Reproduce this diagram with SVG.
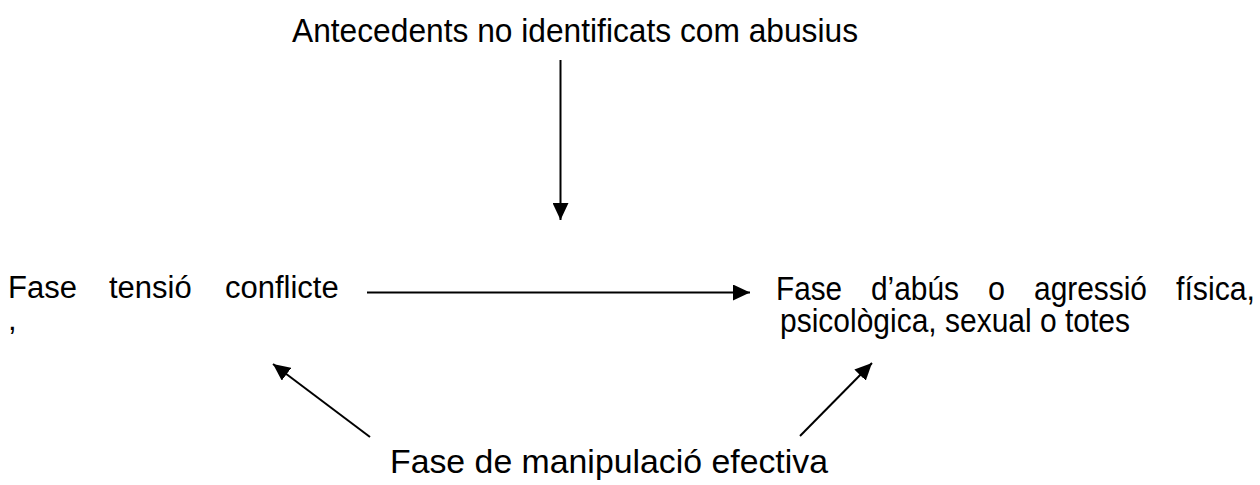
<svg xmlns="http://www.w3.org/2000/svg" width="1260" height="485" viewBox="0 0 1260 485">
<style>
.t{font-family:"Liberation Sans",Arial,sans-serif;fill:#000}
.a{font-size:32.5px}
.l{font-size:31px}
.r{font-size:33px}
.c{stroke:#000;stroke-width:2;fill:none}
</style>
<defs>
<marker id="ah" viewBox="0 0 17 16" refX="17" refY="8" markerWidth="17" markerHeight="16" markerUnits="userSpaceOnUse" orient="auto">
<path d="M0,0 L17,8 L0,16 z" fill="#000"/>
</marker>
</defs>
<rect width="1260" height="485" fill="#fff"/>
<g id="node-antecedents">
<text class="t a" x="292" y="42" textLength="566" lengthAdjust="spacingAndGlyphs">Antecedents no identificats com abusius</text>
</g>
<g id="node-tensio">
<text class="t l" x="8" y="298">Fase</text>
<text class="t l" x="109" y="298">tensió</text>
<text class="t l" x="225" y="298">conflicte</text>
<text class="t l" x="8" y="330">,</text>
</g>
<g id="node-abus">
<text class="t r" x="776" y="300" textLength="66" lengthAdjust="spacingAndGlyphs">Fase</text>
<text class="t r" x="871" y="300" textLength="88" lengthAdjust="spacingAndGlyphs">d’abús</text>
<text class="t r" x="988" y="300" textLength="17" lengthAdjust="spacingAndGlyphs">o</text>
<text class="t r" x="1034" y="300" textLength="113" lengthAdjust="spacingAndGlyphs">agressió</text>
<text class="t r" x="1176" y="300" textLength="79" lengthAdjust="spacingAndGlyphs">física,</text>
<text class="t r" x="780" y="332" textLength="350" lengthAdjust="spacingAndGlyphs">psicològica, sexual o totes</text>
</g>
<g id="node-manipulacio">
<text class="t a" x="390" y="473" textLength="438" lengthAdjust="spacingAndGlyphs">Fase de manipulació efectiva</text>
</g>
<g id="connectors">
<line class="c" x1="560.5" y1="60" x2="560.5" y2="220" marker-end="url(#ah)"/>
<line class="c" x1="367" y1="292.5" x2="750" y2="292.5" marker-end="url(#ah)"/>
<line class="c" x1="370" y1="437" x2="273" y2="364" marker-end="url(#ah)"/>
<line class="c" x1="800" y1="436" x2="872" y2="363" marker-end="url(#ah)"/>
</g>
</svg>
